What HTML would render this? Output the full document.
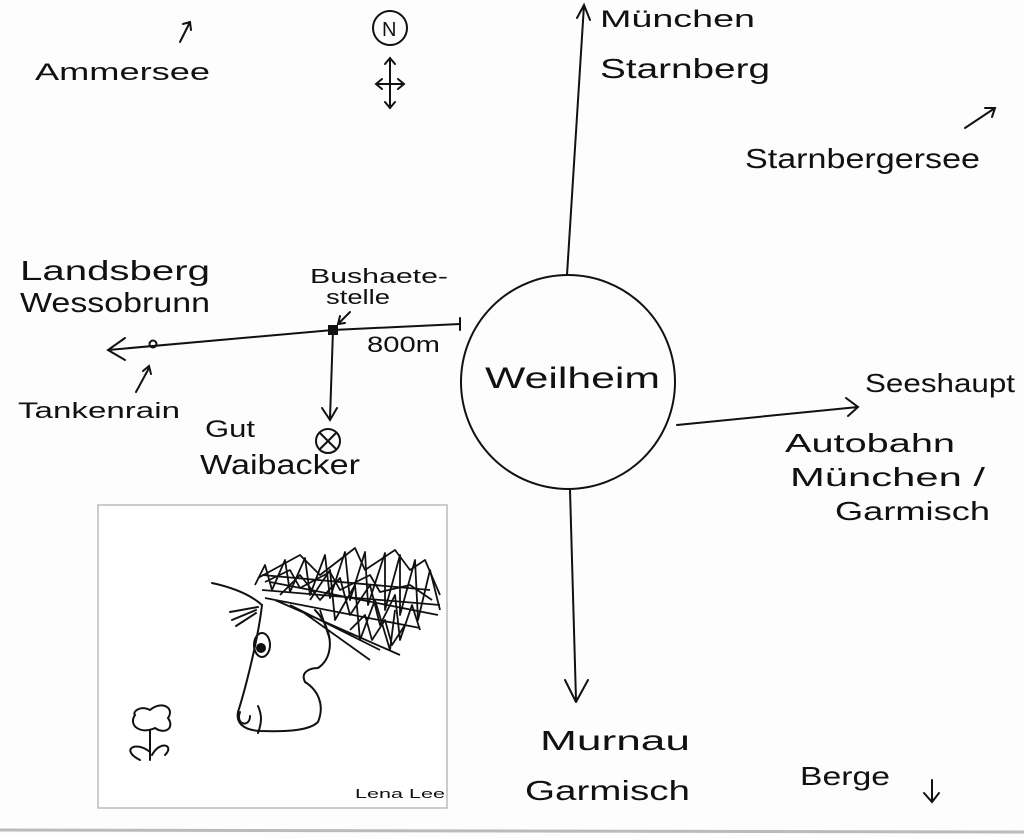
<!DOCTYPE html>
<html><head><meta charset="utf-8"><style>
html,body{margin:0;padding:0;background:#fff}
svg{display:block}
text{font-family:"Liberation Sans",sans-serif;fill:#111}
</style></head><body>
<svg width="1024" height="838" viewBox="0 0 1024 838" xmlns="http://www.w3.org/2000/svg">
<rect width="1024" height="838" fill="#fdfdfd"/>
<line x1="0" y1="830" x2="1024" y2="832" stroke="#bbb" stroke-width="3"/>
<rect x="98" y="505" width="349" height="303" fill="#fff" stroke="#bbb" stroke-width="1.5"/>
<g fill="none" stroke="#111" stroke-width="2" stroke-linecap="round">
<path d="M180 42 L190 22 M183 24 L190 22 L191 30"/>
<circle cx="390" cy="28" r="17"/>
<path d="M390 58 V108 M376 84 H404 M385 64 L390 58 L395 64 M385 102 L390 108 L395 102 M382 79 L376 84 L382 89 M398 79 L404 84 L398 89"/>
<path d="M567 275 L584 5 M577 18 L584 5 L590 20"/>
<path d="M965 128 L995 108 M985 108 L995 108 L992 117"/>
<circle cx="568" cy="382" r="107"/>
<path d="M108 350 L333 330 L460 324 M460 318 V330 M125 338 L108 350 L125 360"/>
<circle cx="153" cy="344" r="3.5"/>
<path d="M136 392 L149 368 M143 371 L149 366 L151 374"/>
<path d="M333 330 L330 418 M322 408 L330 420 L337 408"/>
<circle cx="328" cy="441" r="12"/>
<path d="M320 433 L336 449 M336 433 L320 449"/>
<path d="M350 312 L338 324 M340 316 L338 324 L345 323"/>
<rect x="329" y="326" width="8" height="8" fill="#111"/>
<path d="M677 425 L858 407 M846 398 L858 407 L848 416"/>
<path d="M570 490 L576 700 M565 680 L576 702 M588 680 L576 702"/>
<path d="M932 780 L932 802 M924 793 L932 802 L939 793"/>
<path d="M212 583 C235 588 252 596 262 605 C258 640 245 690 238 712 C236 722 242 730 260 731 C290 732 310 730 318 722 C325 705 318 690 305 682 C300 672 310 668 318 668 C330 660 332 645 328 632 C325 622 320 615 315 610"/>
<path d="M230 612 L258 607 M232 620 L256 610 M236 626 L256 613"/>
<ellipse cx="262" cy="645" rx="8" ry="12"/>
<circle cx="261" cy="648" r="4" fill="#111"/>
<path d="M240 712 C235 725 250 728 250 716 M258 706 C262 715 262 722 258 733"/>
<path d="M135 715 C128 725 140 735 155 728 C165 735 175 728 168 718 C175 708 162 700 150 710 C140 705 132 712 135 715 Z M150 730 V760 M150 752 C135 740 120 750 140 760 M152 755 C160 740 175 745 165 755"/>
</g>
<g fill="none" stroke="#111" stroke-width="1.8" stroke-linejoin="round">
<path d="M255 585 L265 565 L272 590 L285 560 L290 592 L305 558 L310 595 L325 555 L330 598 L345 552 L350 600 L365 552 L368 605 L385 553 L385 610 L400 555 L400 615 L415 560 L418 620 L430 570 L440 610"/>
<path d="M258 578 L300 555 L320 575 L355 548 L365 570 L395 550 L410 570 L425 560 L440 595"/>
<path d="M262 590 L440 605 M265 598 L420 628 M275 600 L400 655 M290 605 L380 650 M300 610 L370 660 M320 610 L330 640 M262 575 L430 590 M270 582 L438 615"/>
<path d="M280 595 L300 575 L320 600 L340 578 L350 615 L370 585 L380 625 L395 595 L400 640 L412 605 L420 630"/>
<path d="M310 600 L330 570 L335 620 L355 585 L360 640 L375 600 L390 650 L395 610"/>
<path d="M265 582 L290 570 L300 588 L330 572 L340 590 L370 575 L380 592 L410 585 L432 600"/>
<path d="M350 630 L365 615 L372 640 L385 620 L392 645 L405 625"/>
</g>
<g lengthAdjust="spacingAndGlyphs">
<text x="35" y="80" font-size="24" textLength="175" lengthAdjust="spacingAndGlyphs">Ammersee</text>
<text x="382" y="36" font-size="20">N</text>
<text x="600" y="27" font-size="24" textLength="155" lengthAdjust="spacingAndGlyphs">München</text>
<text x="600" y="78" font-size="28" textLength="170" lengthAdjust="spacingAndGlyphs">Starnberg</text>
<text x="745" y="168" font-size="28" textLength="235" lengthAdjust="spacingAndGlyphs">Starnbergersee</text>
<text x="20" y="280" font-size="28" textLength="190" lengthAdjust="spacingAndGlyphs">Landsberg</text>
<text x="20" y="312" font-size="28" textLength="190" lengthAdjust="spacingAndGlyphs">Wessobrunn</text>
<text x="310" y="283" font-size="20" textLength="138" lengthAdjust="spacingAndGlyphs">Bushaete-</text>
<text x="326" y="304" font-size="20" textLength="64" lengthAdjust="spacingAndGlyphs">stelle</text>
<text x="367" y="352" font-size="22" textLength="73" lengthAdjust="spacingAndGlyphs">800m</text>
<text x="18" y="418" font-size="22" textLength="162" lengthAdjust="spacingAndGlyphs">Tankenrain</text>
<text x="205" y="437" font-size="24" textLength="50" lengthAdjust="spacingAndGlyphs">Gut</text>
<text x="200" y="474" font-size="28" textLength="160" lengthAdjust="spacingAndGlyphs">Waibacker</text>
<text x="485" y="388" font-size="30" textLength="175" lengthAdjust="spacingAndGlyphs">Weilheim</text>
<text x="865" y="392" font-size="26" textLength="150" lengthAdjust="spacingAndGlyphs">Seeshaupt</text>
<text x="785" y="452" font-size="26" textLength="170" lengthAdjust="spacingAndGlyphs">Autobahn</text>
<text x="790" y="486" font-size="26" textLength="195" lengthAdjust="spacingAndGlyphs">München /</text>
<text x="835" y="520" font-size="26" textLength="155" lengthAdjust="spacingAndGlyphs">Garmisch</text>
<text x="540" y="750" font-size="28" textLength="150" lengthAdjust="spacingAndGlyphs">Murnau</text>
<text x="525" y="800" font-size="28" textLength="165" lengthAdjust="spacingAndGlyphs">Garmisch</text>
<text x="800" y="785" font-size="26" textLength="90" lengthAdjust="spacingAndGlyphs">Berge</text>
<text x="355" y="798" font-size="13" textLength="90" lengthAdjust="spacingAndGlyphs">Lena Lee</text>
</g>
</svg>
</body></html>
